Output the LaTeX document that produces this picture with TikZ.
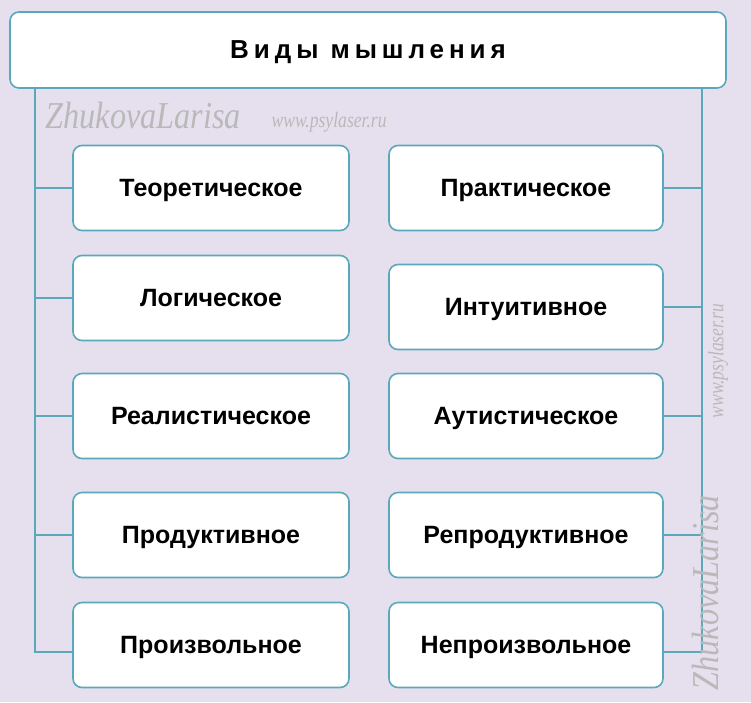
\documentclass[tikz,border=0pt]{standalone}
\usepackage{fontspec}
\setmainfont{Liberation Sans}
\newfontfamily\markfont{Liberation Serif}
\definecolor{fon}{HTML}{E6E0EE}
\definecolor{kant}{HTML}{5AA8BA}
\tikzset{
  vid/.style={draw=kant, line width=1.6pt, fill=white, rounded corners=9pt,
    minimum width=276pt, minimum height=85pt, text depth=0pt,
    font=\bfseries\fontsize{25}{27}\selectfont},
  svyaz/.style={draw=kant, line width=1.6pt},
  znak/.style={text=gray!55, font=\markfont\itshape}
}
\begin{document}
\begin{tikzpicture}[x=1pt,y=-1pt]
\fill[fon] (0,0) rectangle (751,702);

\node[vid, minimum width=716pt, minimum height=76pt, font=\bfseries\fontsize{26}{28}\selectfont] (vidy) at (368,50) {\addfontfeature{LetterSpace=19}Виды мышления};

\node[vid] (teor) at (211,188) {Теоретическое};
\node[vid] (logi) at (211,298) {Логическое};
\node[vid] (real) at (211,416) {Реалистическое};
\node[vid] (prod) at (211,535) {Продуктивное};
\node[vid] (proi) at (211,645) {Произвольное};

\node[vid, minimum width=274pt] (prak) at (526,188) {Практическое};
\node[vid, minimum width=274pt] (intu) at (526,307) {Интуитивное};
\node[vid, minimum width=274pt] (auti) at (526,416) {Аутистическое};
\node[vid, minimum width=274pt] (repr) at (526,535) {Репродуктивное};
\node[vid, minimum width=274pt] (nepr) at (526,645) {Непроизвольное};

% levaya i pravaya shina
\coordinate (lv) at (35,88);
\coordinate (pv) at (702,88);
\draw[svyaz] (lv) -- (35,652) -- (proi.west |- 0,652);
\draw[svyaz] (pv) -- (702,652) -- (nepr.east |- 0,652);
\foreach \n in {teor,logi,real,prod}
  \draw[svyaz] (\n.west) -- (35,0 |- \n.west);
\foreach \n in {prak,intu,auti,repr}
  \draw[svyaz] (\n.east) -- (702,0 |- \n.east);

% vodyanye znaki
\node[znak, anchor=west, font=\markfont\itshape\fontsize{38}{38}\selectfont\addfontfeature{FakeStretch=0.85}] (zn1) at (42,116) {ZhukovaLarisa};
\node[znak, anchor=west, font=\markfont\itshape\fontsize{22}{22}\selectfont\addfontfeature{FakeStretch=0.8}] (zn2) at (268,122) {www.psylaser.ru};
\node[znak, anchor=west, rotate=90, font=\markfont\itshape\fontsize{38}{38}\selectfont\addfontfeature{FakeStretch=0.85}] (zn3) at (706,694) {ZhukovaLarisa};
\node[znak, anchor=west, rotate=90, font=\markfont\itshape\fontsize{22}{22}\selectfont\addfontfeature{FakeStretch=0.8}] (zn4) at (718,422) {www.psylaser.ru};
\end{tikzpicture}
\end{document}
